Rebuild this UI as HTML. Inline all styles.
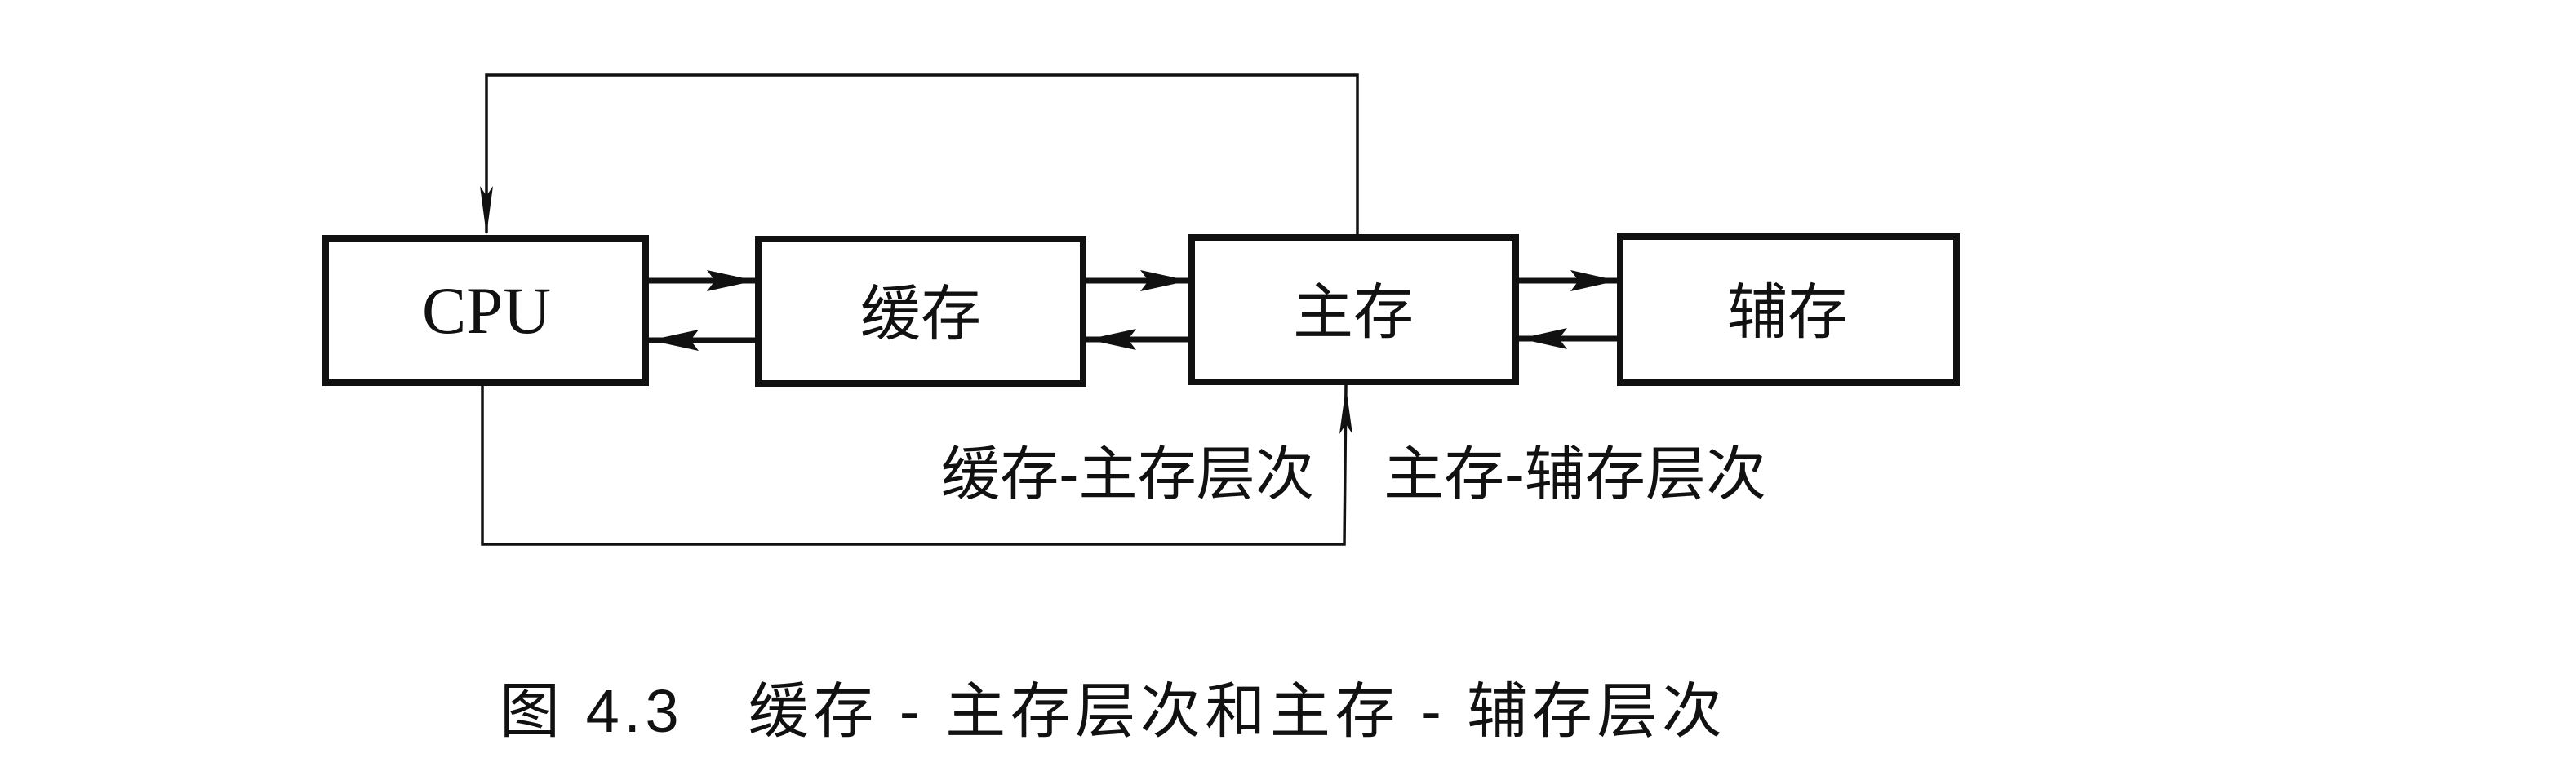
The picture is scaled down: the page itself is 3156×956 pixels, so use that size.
<!DOCTYPE html>
<html><head><meta charset="utf-8"><style>
html,body{margin:0;padding:0;background:#fff;}
svg{display:block}
text{font-family:"Liberation Sans","Noto Sans CJK SC",sans-serif;fill:#111;}
</style></head><body>
<svg width="3156" height="956" viewBox="0 0 3156 956" xmlns="http://www.w3.org/2000/svg">
<g fill="none" stroke="#111">
<rect x="399" y="292" width="392" height="177" stroke-width="8"/>
<rect x="929" y="293" width="398" height="177" stroke-width="8"/>
<rect x="1460" y="291" width="397" height="177" stroke-width="8"/>
<rect x="1985" y="290" width="412" height="179" stroke-width="8"/>
<polyline points="1663,288 1663,92 596,92 596,286" stroke-width="3.5"/>
<polyline points="591,472 591,667 1647,667 1649,472" stroke-width="3.5"/>
</g>
<g fill="#111">
<path d="M596,288 L588,228 L596,240 L604,228 Z"/>
<path d="M1649,474 L1641,532 L1649,520 L1657,532 Z"/>
</g>
<g stroke="#111" stroke-width="7">
<line x1="794" y1="344" x2="926" y2="344"/>
<line x1="926" y1="417" x2="794" y2="417"/>
<line x1="1330" y1="344" x2="1457" y2="344"/>
<line x1="1457" y1="416" x2="1330" y2="416"/>
<line x1="1860" y1="344" x2="1982" y2="344"/>
<line x1="1982" y1="415" x2="1860" y2="415"/>
</g>
<g fill="#111">
<path d="M926,344 L866,331 L876,344 L866,357 Z"/>
<path d="M796,417 L856,404 L846,417 L856,430 Z"/>
<path d="M1457,344 L1397,331 L1407,344 L1397,357 Z"/>
<path d="M1332,416 L1392,403 L1382,416 L1392,429 Z"/>
<path d="M1982,344 L1924,331 L1934,344 L1924,357 Z"/>
<path d="M1862,415 L1920,402 L1910,415 L1920,428 Z"/>
</g>
<text x="596" y="408" font-size="82" text-anchor="middle" textLength="158" lengthAdjust="spacingAndGlyphs" style="font-family:'Liberation Serif',serif">CPU</text>
<text x="1128" y="410" font-size="74" text-anchor="middle">缓存</text>
<text x="1658" y="408" font-size="74" text-anchor="middle">主存</text>
<text x="2190" y="408" font-size="74" text-anchor="middle">辅存</text>
<text x="1153" y="606" font-size="72" textLength="457" lengthAdjust="spacingAndGlyphs">缓存-主存层次</text>
<text x="1695" y="606" font-size="72" textLength="469" lengthAdjust="spacingAndGlyphs">主存-辅存层次</text>
<text x="612" y="897" font-size="74" textLength="1498" lengthAdjust="spacing">图 4.3　缓存 - 主存层次和主存 - 辅存层次</text>
</svg>
</body></html>
